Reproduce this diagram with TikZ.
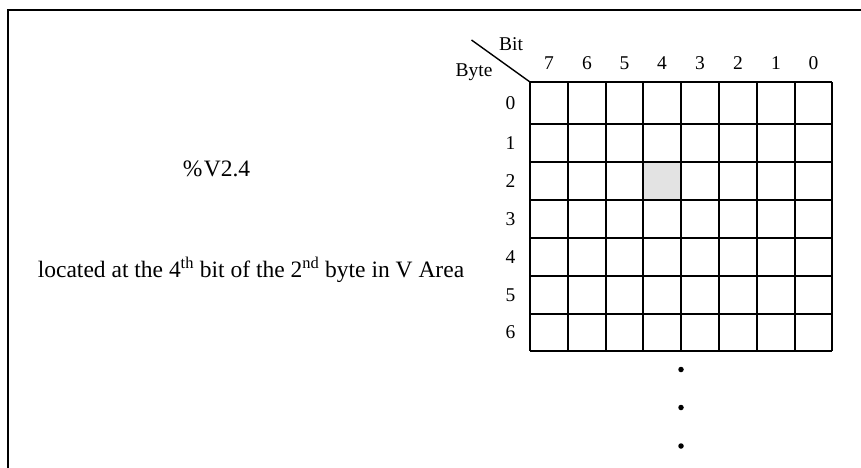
\documentclass[tikz,border=0pt]{standalone}
\usepackage{fontspec}
\setmainfont{Liberation Serif}
\begin{document}
\begin{tikzpicture}[x=1pt,y=-1pt,
  gridline/.style={line width=1.6pt},
  framel/.style={line width=2.8pt},
  lbl/.style={inner sep=0pt,font=\fontsize{19.5}{21}\selectfont},
  maintxt/.style={inner sep=0pt,font=\fontsize{23.5}{27}\selectfont},
  dotf/.style={fill=black,draw=none}]
\useasboundingbox (0,0) rectangle (861,467);
% frame
\draw[framel] (8,470) -- (8,10) -- (865,10);
% highlighted cell
\fill[fill=black!11] (643,162) rectangle (681,200);
% grid
\def\ys{82,124,162,200,238,276,314,351}
\foreach \y in \ys {\draw[gridline] (530,\y) -- (832,\y);}
\foreach \x in {530,568,606,643,681,719,757,795,832} {\draw[gridline] (\x,82) -- (\x,351);}
% diagonal
\coordinate (corner) at (530,82);
\coordinate (diagend) at (471.5,40);
\draw[line width=1.4pt] (diagend) -- (corner);
\node[lbl] (bit) at (511,44) {Bit};
\node[lbl] (byte) at (474,72) {Byte};
% column labels
\foreach \lab/\x in {7/549,6/587,5/624.5,4/662,3/700,2/738,1/776,0/813.5}
  {\node[lbl] (c\lab) at (\x,63) {\lab};}
% row labels
\foreach \lab/\y in {0/103,1/143,2/181,3/219,4/257,5/295,6/332}
  {\node[lbl] (r\lab) at (510.5,\y) {\lab};}
% dots
\foreach \y/\n in {369.5/d1,407.5/d2,446/d3}
  {\node[dotf,circle,inner sep=0pt,minimum size=5.5pt] (\n) at (681,\y) {};}
% texts
\node[maintxt] (addr) at (216.5,169) {\%\kern1.5pt V2.4};
\node[maintxt] (desc) at (251,270) {located at the 4\textsuperscript{th} bit of the 2\textsuperscript{nd} byte in V Area};
\end{tikzpicture}
\end{document}
